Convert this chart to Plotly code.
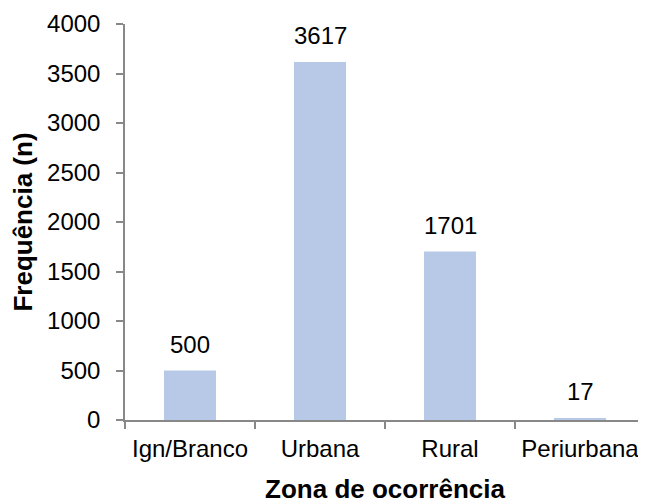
import plotly.graph_objects as go

# data
zonas = ["Ign/Branco", "Urbana", "Rural", "Periurbana"]
frequencias = [500, 3617, 1701, 17]
y_ticks = [0, 500, 1000, 1500, 2000, 2500, 3000, 3500, 4000]

BAR_COLOR = "#B7C9E6"
AXIS_COLOR = "#888888"
FONT = "Liberation Sans, Arial, sans-serif"

fig = go.Figure()

fig.add_trace(
    go.Bar(
        x=zonas,
        y=frequencias,
        marker=dict(color=BAR_COLOR, line=dict(width=0)),
        width=0.4,
        hoverinfo="x+y",
    )
)

# value labels above the bars
for zona, freq in zip(zonas, frequencias):
    fig.add_annotation(
        x=zona, y=freq, text=str(freq), showarrow=False,
        yanchor="bottom", yshift=11,
        font=dict(family=FONT, size=24, color="#000000"),
    )

# the page body has an 8px margin, so the figure is a bit smaller than the window
fig.update_layout(
    width=638,
    height=496,
    margin=dict(l=117, r=1, t=16, b=84),
    plot_bgcolor="white",
    paper_bgcolor="white",
    showlegend=False,
    font=dict(family=FONT, size=24, color="#000000"),
)

fig.update_xaxes(
    type="category",
    showline=True, linecolor=AXIS_COLOR, linewidth=1.5,
    ticks="outside", tickson="boundaries", ticklen=7,
    tickcolor=AXIS_COLOR, tickwidth=1.5,
    ticklabelstandoff=6,
    showgrid=False, zeroline=False,
    title=dict(text="<b>Zona de ocorrência</b>", standoff=22,
               font=dict(family=FONT, size=26)),
)

fig.update_yaxes(
    range=[0, 4000],
    tickvals=y_ticks,
    showline=True, linecolor=AXIS_COLOR, linewidth=1.5,
    ticks="outside", ticklen=7, tickcolor=AXIS_COLOR, tickwidth=1.5,
    ticklabelstandoff=11,
    showgrid=False, zeroline=False,
    title=dict(text="<b>Frequência (n)</b>", standoff=15,
               font=dict(family=FONT, size=26)),
)

fig.write_html("out.html")
